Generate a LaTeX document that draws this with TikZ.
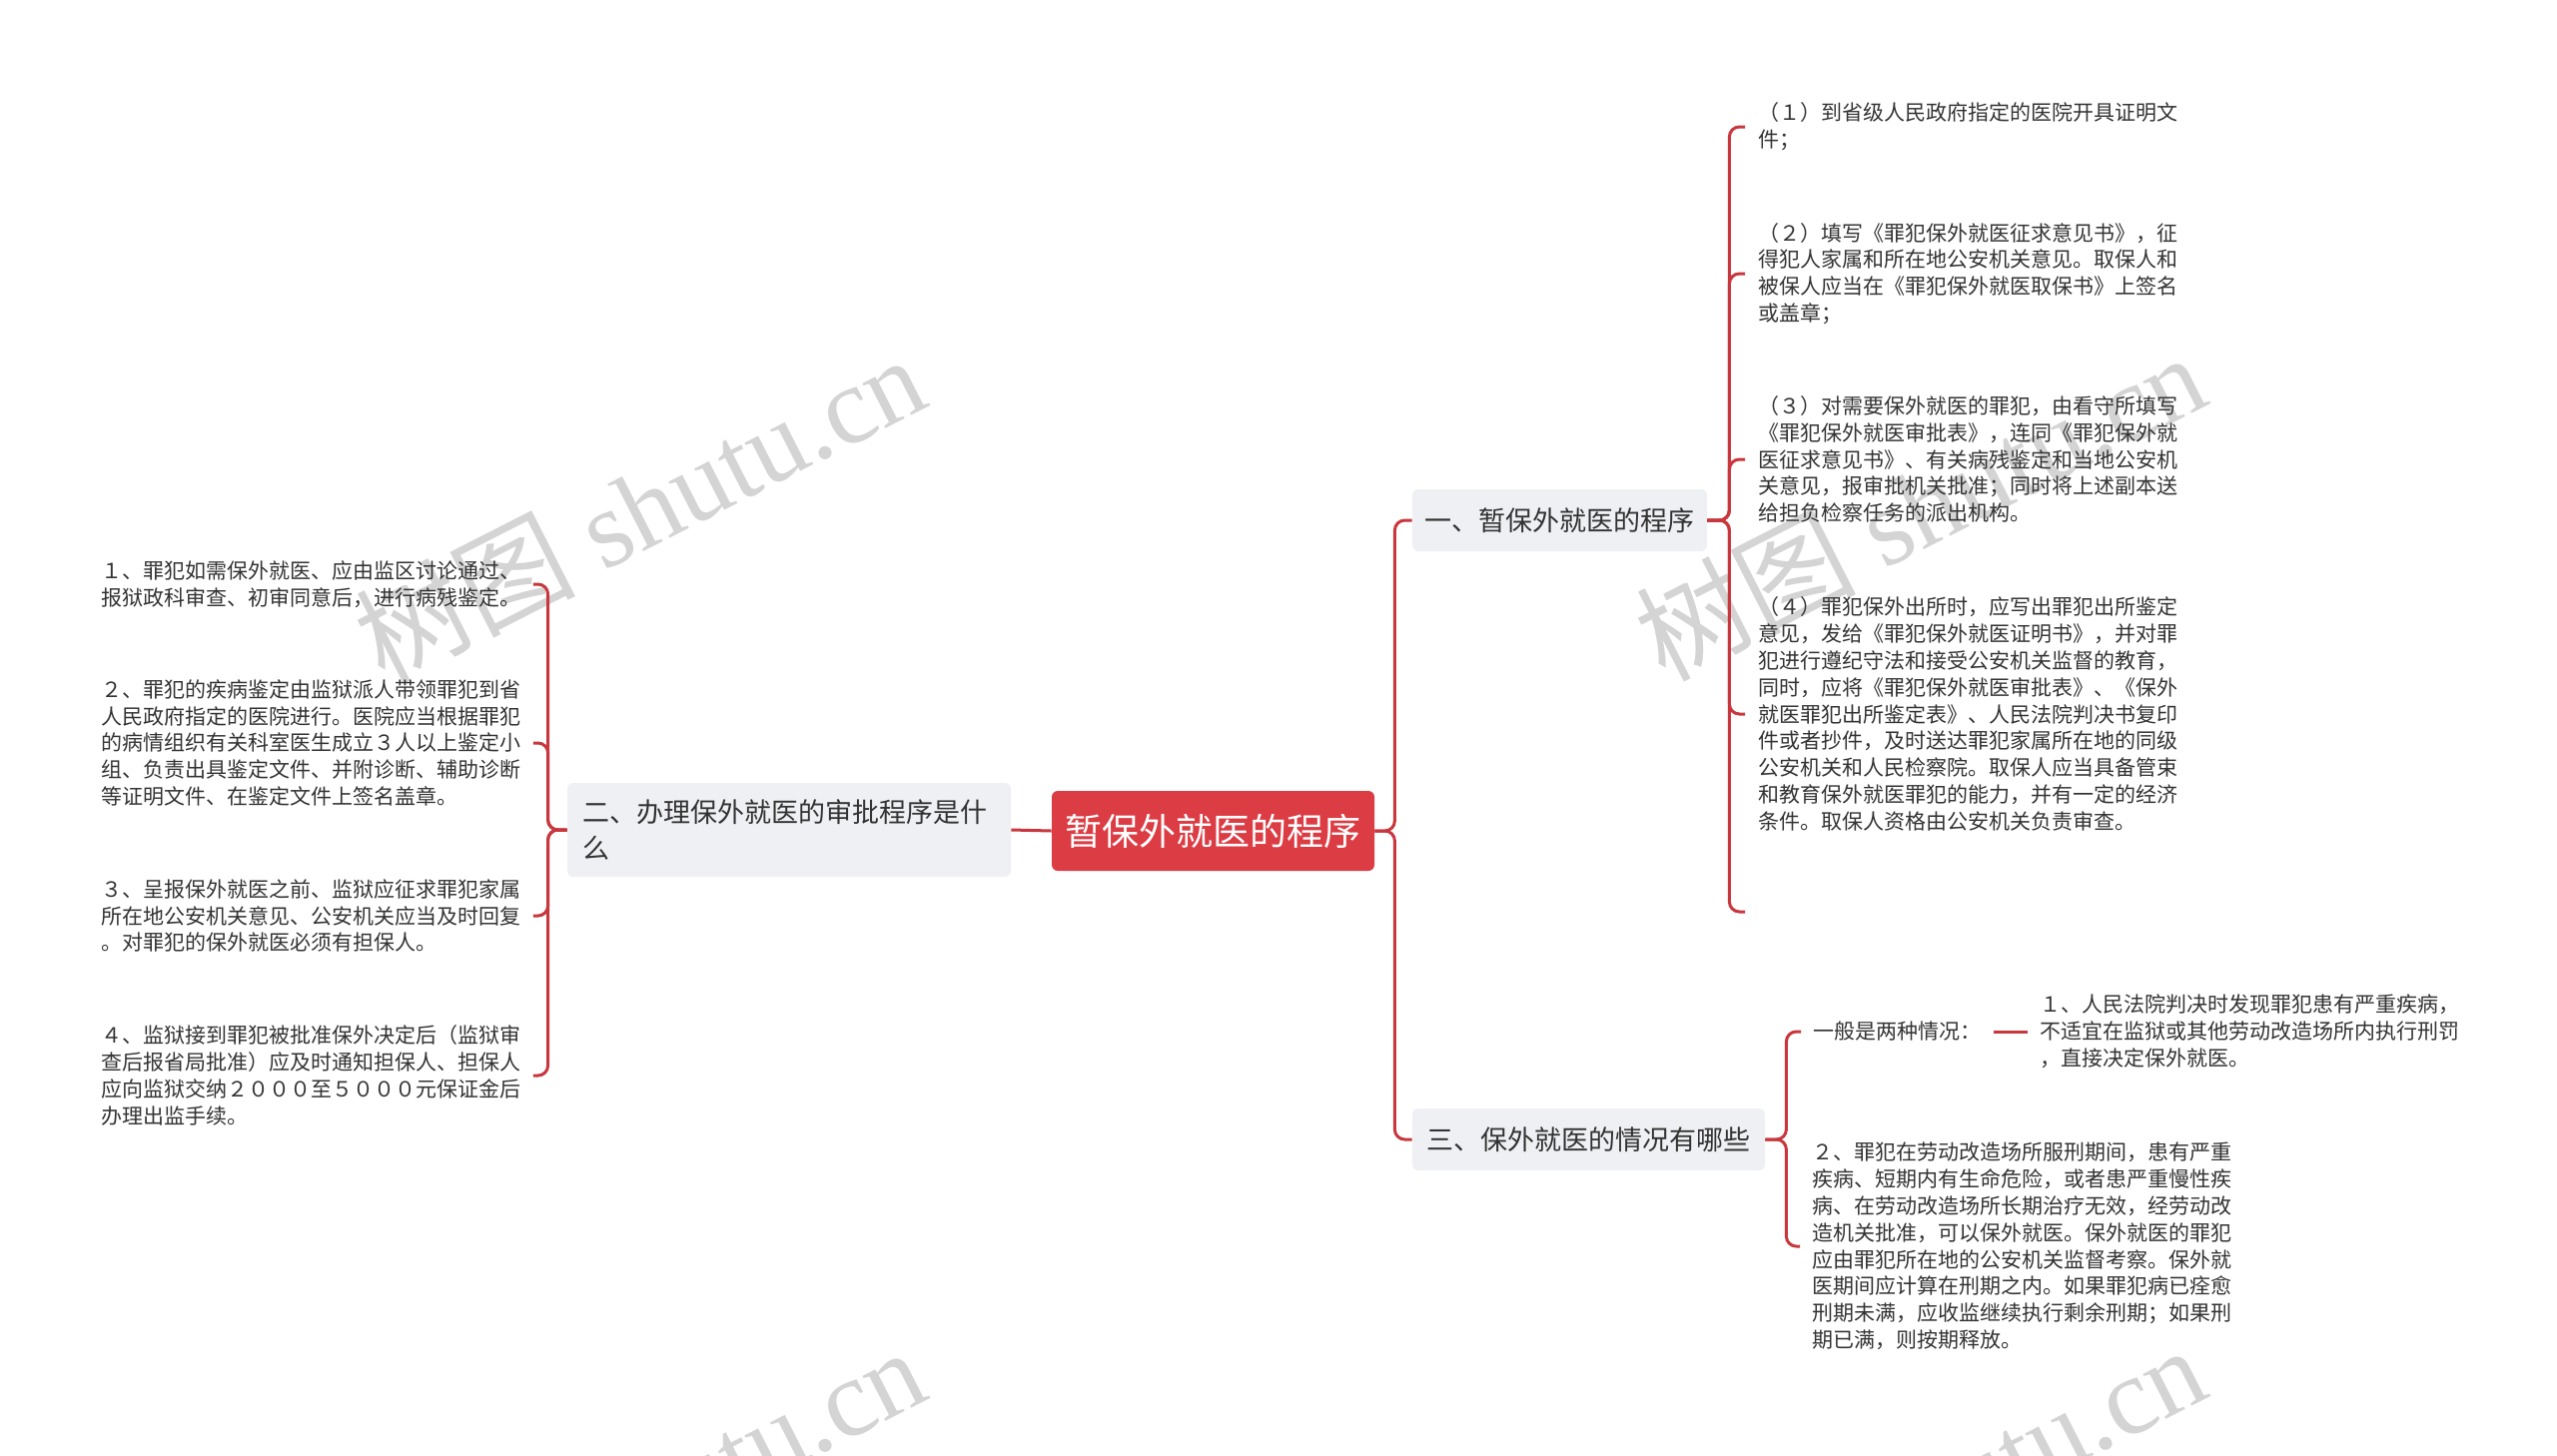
\documentclass[tikz,border=0pt]{standalone}
\usepackage{fontspec}
\newfontfamily\cjk{Noto Sans CJK SC}
\newfontfamily\wmserif{Liberation Serif}
\definecolor{lred}{RGB}{200,55,62}
\definecolor{cred}{RGB}{220,60,68}
\definecolor{boxg}{RGB}{238,240,243}
\definecolor{txt}{RGB}{51,51,51}
\definecolor{wm}{RGB}{212,212,212}
\begin{document}
\begin{tikzpicture}[x=0.5pt,y=-0.5pt,
  conn/.style={draw=lred,line width=1.5pt,rounded corners=5pt},
  leaf/.style={font=\cjk\fontsize{10.5pt}{13.4pt}\selectfont,text=txt,align=left,text width=216pt,inner ysep=0pt,anchor=west},
  lleaf/.style={leaf,inner xsep=0pt},
  rleaf/.style={leaf,inner xsep=6.5pt},
  sleaf/.style={leaf,inner xsep=6pt},
  topic/.style={fill=boxg,rounded corners=3pt,text=txt,font=\cjk\fontsize{13.5pt}{18pt}\selectfont,inner sep=0pt},
  rootbox/.style={fill=cred,rounded corners=3pt,text=white,font=\cjk\fontsize{18.5pt}{22pt}\selectfont,inner sep=0pt,minimum width=161.5pt,minimum height=40pt},
  wmark/.style={text=wm,font=\wmserif\fontsize{55pt}{55pt}\selectfont,rotate=27,inner sep=0pt}
]
\useasboundingbox (0,0) rectangle (2560,1457);
\fill[white] (0,0) rectangle (2560,1457);
\begin{scope}
\clip (0,0) rectangle (2560,1457);
\node[wmark] (wm1) at (640,508) {{\cjk 树图} shutu.cn};
\node[wmark] (wm2) at (1922,506) {{\cjk 树图} shutu.cn};
\node[wmark] (wm3) at (640,1502) {{\cjk 树图} shutu.cn};
\node[wmark] (wm4) at (1922,1500) {{\cjk 树图} shutu.cn};
\end{scope}

% central and topic boxes
\node[rootbox] (root) at (1214.5,832) {暂保外就医的程序};
\node[topic,minimum width=222pt,minimum height=47pt,text width=207pt,align=left] (t2) at (790,831) {二、办理保外就医的审批程序是什\\么};
\node[topic,minimum width=147.5pt,minimum height=31pt] (t1) at (1561.5,521) {一、暂保外就医的程序};
\node[topic,minimum width=176.5pt,minimum height=31pt] (t3) at (1590.5,1141) {三、保外就医的情况有哪些};

% left leaves
\node[lleaf] (l1) at (101,585) {１、罪犯如需保外就医、应由监区讨论通过、\\报狱政科审查、初审同意后，进行病残鉴定。};
\node[lleaf] (l2) at (101,744) {２、罪犯的疾病鉴定由监狱派人带领罪犯到省\\人民政府指定的医院进行。医院应当根据罪犯\\的病情组织有关科室医生成立３人以上鉴定小\\组、负责出具鉴定文件、并附诊断、辅助诊断\\等证明文件、在鉴定文件上签名盖章。};
\node[lleaf] (l3) at (101,917) {３、呈报保外就医之前、监狱应征求罪犯家属\\所在地公安机关意见、公安机关应当及时回复\\。对罪犯的保外就医必须有担保人。};
\node[lleaf] (l4) at (101,1077) {４、监狱接到罪犯被批准保外决定后（监狱审\\查后报省局批准）应及时通知担保人、担保人\\应向监狱交纳２０００至５０００元保证金后\\办理出监手续。};

% right upper leaves
\node[rleaf] (r1) at (1747,127) {（１）到省级人民政府指定的医院开具证明文\\件；};
\node[rleaf] (r2) at (1747,274) {（２）填写《罪犯保外就医征求意见书》，征\\得犯人家属和所在地公安机关意见。取保人和\\被保人应当在《罪犯保外就医取保书》上签名\\或盖章；};
\node[rleaf] (r3) at (1747,460) {（３）对需要保外就医的罪犯，由看守所填写\\《罪犯保外就医审批表》，连同《罪犯保外就\\医征求意见书》、有关病残鉴定和当地公安机\\关意见，报审批机关批准；同时将上述副本送\\给担负检察任务的派出机构。};
\node[rleaf] (r4) at (1747,715) {（４）罪犯保外出所时，应写出罪犯出所鉴定\\意见，发给《罪犯保外就医证明书》，并对罪\\犯进行遵纪守法和接受公安机关监督的教育，\\同时，应将《罪犯保外就医审批表》、《保外\\就医罪犯出所鉴定表》、人民法院判决书复印\\件或者抄件，及时送达罪犯家属所在地的同级\\公安机关和人民检察院。取保人应当具备管束\\和教育保外就医罪犯的能力，并有一定的经济\\条件。取保人资格由公安机关负责审查。};
\coordinate (rend) at (1747,913);

% right lower leaves
\node[sleaf,text width=] (s1) at (1803,1033) {一般是两种情况：};
\node[sleaf] (s2) at ([xshift=17pt]s1.east) {１、人民法院判决时发现罪犯患有严重疾病，\\不适宜在监狱或其他劳动改造场所内执行刑罚\\，直接决定保外就医。};
\node[sleaf] (s3) at (1802,1248) {２、罪犯在劳动改造场所服刑期间，患有严重\\疾病、短期内有生命危险，或者患严重慢性疾\\病、在劳动改造场所长期治疗无效，经劳动改\\造机关批准，可以保外就医。保外就医的罪犯\\应由罪犯所在地的公安机关监督考察。保外就\\医期间应计算在刑期之内。如果罪犯病已痊愈\\刑期未满，应收监继续执行剩余刑期；如果刑\\期已满，则按期释放。};

% connectors
\draw[conn] (root.west) -- (t2.east);
\draw[conn] (root.east) -- ++(20,0) |- (t1.west);
\draw[conn] (root.east) -- ++(20,0) |- (t3.west);
\foreach \c in {l1,l2,l3,l4} \draw[conn] (t2.west) -- ++(-19,0) |- (\c.east);
\foreach \c in {r1,r2,r3,r4} \draw[conn] (t1.east) -- ++(22,0) |- (\c.west);
\draw[conn] (t1.east) -- ++(22,0) |- (rend);
\draw[conn] (t3.east) -- ++(21,0) |- (s1.west);
\draw[conn] (t3.east) -- ++(21,0) |- (s3.west);
\draw[conn] (s1.east) -- (s2.west);
\end{tikzpicture}
\end{document}
